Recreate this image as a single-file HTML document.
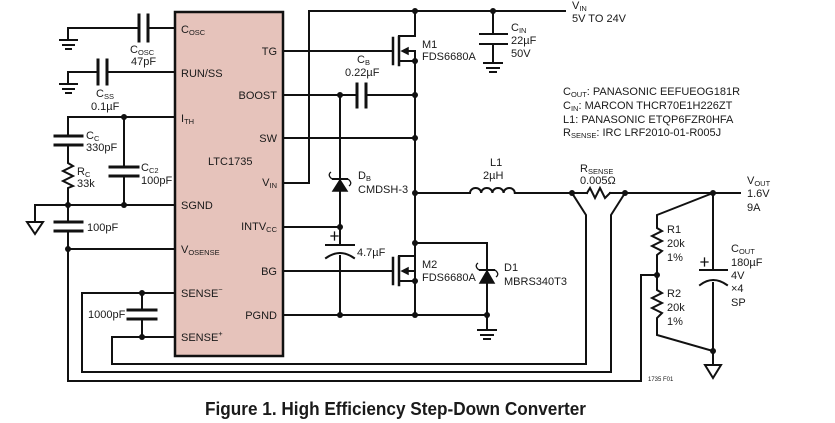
<!DOCTYPE html>
<html><head><meta charset="utf-8"><style>
html,body{margin:0;padding:0;background:#fff;}
svg{display:block;}
text{font-family:"Liberation Sans",sans-serif;fill:#1a1a1a;}
.l{font-size:11px;}
.s{font-size:7.5px;}
</style></head><body>
<svg width="835" height="423" viewBox="0 0 835 423" xmlns="http://www.w3.org/2000/svg">
<g stroke="#111" stroke-width="2" fill="none" stroke-linecap="square">
<rect x="175" y="12" width="108" height="344" fill="#e6c3bb" stroke="#111" stroke-width="2.5"/>
<path d="M68 40 V28 H139 M148 28 H175"/>
<path d="M139 15 V41 M148 15 V41" stroke-width="3"/>
<path d="M60 40 H77 M63 45 H74 M66 49 H71"/>
<path d="M68 84 V72 H98 M107 72 H175"/>
<path d="M98 60 V84 M107 60 V84" stroke-width="3"/>
<path d="M60 84 H77 M63 89 H74 M66 93 H71"/>
<path d="M68 136 V117 H175 M124 117 V167 M124 176 V205"/>
<path d="M55 136 H82 M55 145 H82 M110 167 H138 M110 176 H138" stroke-width="3"/>
<path d="M68 145 V163 L73 166 L63 171 L73 176 L63 181 L73 186 L68 188 V222"/>
<path d="M55 222 H82 M55 231 H82" stroke-width="3"/>
<path d="M35 222 V205 H175"/>
<path d="M27 222 H43 L35 234 Z"/>
<path d="M68 231 V381 H641 V275 H657 M68 249 H175"/>
<path d="M175 293 H82 V372 H611 V215 L625 193 M142 293 V310 M142 319 V337"/>
<path d="M128 310 H156 M128 319 H156" stroke-width="3"/>
<path d="M175 337 H112 V364 H586 V215 L572 193"/>
<path d="M283 51 H392 M283 183 H309 V11 H565 M283 95 H357 M366 95 H415 M283 138 H415 M283 227 H340 M283 271 H392 M283 315 H487"/>
<path d="M357 84 V107 M366 84 V107" stroke-width="3"/>
<path d="M393 38 V64 M393 258 V284" stroke-width="2.5"/>
<path d="M399 37 V45 M399 47 V55 M399 57 V65 M399 257 V265 M399 267 V275 M399 277 V285" stroke-width="2.5"/>
<path d="M399 36 H415 M399 61 H415 M405 51 H415 V61 M415 11 V36 M415 61 V315"/>
<path d="M399 256 H415 M399 281 H415 M405 271 H415 V281 M415 243 V256"/>
<path d="M493 11 V34 M493 44 V63 M480 34 H507 M480 44 H507 M484 63 H502 M487 68 H499 M490 72 H496"/>
<path d="M340 95 V245 M340 256 V315"/>
<path d="M326 245 H354"/>
<path d="M326 258 Q340 248 354 258"/>
<path d="M331 236 H338 M334.5 232 V240" stroke-width="1.3"/>
<path d="M415 243 H487 V330 M478 330 H496 M481 335 H493 M484 339 H490"/>
<path d="M415 193 H470 M515 193 H587 M610 193 H740"/>
<path d="M470 193 a5.6 5 0 0 1 11.2 0 a5.6 5 0 0 1 11.2 0 a5.6 5 0 0 1 11.2 0 a5.6 5 0 0 1 11.2 0"/>
<path d="M587 193 L590 188 L595 198 L600 188 L605 198 L610 193"/>
<path d="M713 193 L657 215 V228 L662 231 L652 236 L662 241 L652 246 L662 251 L657 255 V290 L662 293 L652 298 L662 303 L652 308 L662 313 L657 318 V335 L713 351 V365 M713 193 V270 M713 283 V351"/>
<path d="M700 270 H727"/>
<path d="M700 285 Q713 275 727 285"/>
<path d="M701 262 H708 M704.5 258 V266" stroke-width="1.3"/>
<path d="M705 365 H721 L713 378 Z"/>
</g>
<g fill="#111" stroke="#111" stroke-width="1.5">
<path d="M333 191 H347 L340 180 Z"/>
<path d="M480 283 H494 L487 271 Z"/>
<path d="M332 179 H348" stroke-width="2"/>
<path d="M479 270 H495" stroke-width="2"/>
<path d="M402 51 L408 48 V54 Z"/>
<path d="M402 271 L408 268 V274 Z"/>
</g>
<g fill="none" stroke="#111" stroke-width="1.3">
<path d="M332 179 Q327 175 331 172 M348 179 Q353 183 349 186"/>
<path d="M479 270 Q474 266 478 263 M495 270 Q500 274 496 277"/>
</g>
<g fill="#111">
<circle cx="124" cy="117" r="3"/><circle cx="68" cy="205" r="3"/><circle cx="124" cy="205" r="3"/>
<circle cx="68" cy="249" r="3"/><circle cx="142" cy="293" r="3"/><circle cx="142" cy="337" r="3"/>
<circle cx="415" cy="11" r="3"/><circle cx="493" cy="11" r="3"/><circle cx="415" cy="61" r="3"/>
<circle cx="340" cy="95" r="3"/><circle cx="415" cy="95" r="3"/><circle cx="415" cy="138" r="3"/>
<circle cx="415" cy="193" r="3"/><circle cx="340" cy="227" r="3"/><circle cx="415" cy="243" r="3"/>
<circle cx="415" cy="281" r="3"/><circle cx="340" cy="315" r="3"/><circle cx="415" cy="315" r="3"/>
<circle cx="487" cy="315" r="3"/><circle cx="572" cy="193" r="3"/><circle cx="625" cy="193" r="3"/>
<circle cx="713" cy="193" r="3"/><circle cx="657" cy="275" r="3"/><circle cx="713" cy="351" r="3"/>
</g>
<g class="l">
<text x="181" y="33">C<tspan class="s" dy="2">OSC</tspan></text>
<text x="181" y="77">RUN/SS</text>
<text x="181" y="122">I<tspan class="s" dy="2">TH</tspan></text>
<text x="181" y="209">SGND</text>
<text x="181" y="253">V<tspan class="s" dy="2">OSENSE</tspan></text>
<text x="181" y="297">SENSE<tspan class="s" dy="-5">−</tspan></text>
<text x="181" y="341">SENSE<tspan class="s" dy="-5">+</tspan></text>
<text x="208" y="165">LTC1735</text>
<g text-anchor="end">
<text x="277" y="55">TG</text>
<text x="277" y="99">BOOST</text>
<text x="277" y="142">SW</text>
<text x="277" y="186">V<tspan class="s" dy="2">IN</tspan></text>
<text x="277" y="230">INTV<tspan class="s" dy="2">CC</tspan></text>
<text x="277" y="275">BG</text>
<text x="277" y="319">PGND</text>
</g>
<text x="130" y="53">C<tspan class="s" dy="2">OSC</tspan></text>
<text x="131" y="65">47pF</text>
<text x="96" y="97">C<tspan class="s" dy="2">SS</tspan></text>
<text x="91" y="110">0.1µF</text>
<text x="86" y="139">C<tspan class="s" dy="2">C</tspan></text>
<text x="86" y="151">330pF</text>
<text x="77" y="175">R<tspan class="s" dy="2">C</tspan></text>
<text x="77" y="187">33k</text>
<text x="141" y="171">C<tspan class="s" dy="2">C2</tspan></text>
<text x="141" y="184">100pF</text>
<text x="87" y="231">100pF</text>
<text x="88" y="318">1000pF</text>
<text x="357" y="63">C<tspan class="s" dy="2">B</tspan></text>
<text x="345" y="76">0.22µF</text>
<text x="358" y="179">D<tspan class="s" dy="2">B</tspan></text>
<text x="358" y="193">CMDSH-3</text>
<text x="357" y="256">4.7µF</text>
<text x="422" y="48">M1</text>
<text x="422" y="60">FDS6680A</text>
<text x="422" y="268">M2</text>
<text x="422" y="281">FDS6680A</text>
<text x="504" y="271">D1</text>
<text x="504" y="285">MBRS340T3</text>
<text x="511" y="31">C<tspan class="s" dy="2">IN</tspan></text>
<text x="511" y="44">22µF</text>
<text x="511" y="57">50V</text>
<text x="572" y="9">V<tspan class="s" dy="2">IN</tspan></text>
<text x="572" y="22">5V TO 24V</text>
<text x="490" y="166">L1</text>
<text x="483" y="179">2µH</text>
<text x="580" y="172">R<tspan class="s" dy="2">SENSE</tspan></text>
<text x="580" y="184">0.005Ω</text>
<text x="747" y="184">V<tspan class="s" dy="2">OUT</tspan></text>
<text x="747" y="197">1.6V</text>
<text x="747" y="211">9A</text>
<text x="667" y="233">R1</text>
<text x="667" y="247">20k</text>
<text x="667" y="261">1%</text>
<text x="667" y="297">R2</text>
<text x="667" y="311">20k</text>
<text x="667" y="325">1%</text>
<text x="731" y="252">C<tspan class="s" dy="2">OUT</tspan></text>
<text x="731" y="266">180µF</text>
<text x="731" y="279">4V</text>
<text x="731" y="292">×4</text>
<text x="731" y="306">SP</text>
<text x="563" y="95">C<tspan class="s" dy="2">OUT</tspan><tspan dy="-2">: PANASONIC EEFUEOG181R</tspan></text>
<text x="563" y="109">C<tspan class="s" dy="2">IN</tspan><tspan dy="-2">: MARCON THCR70E1H226ZT</tspan></text>
<text x="563" y="123">L1: PANASONIC ETQP6FZR0HFA</text>
<text x="563" y="136">R<tspan class="s" dy="2">SENSE</tspan><tspan dy="-2">: IRC LRF2010-01-R005J</tspan></text>
</g>
<text x="648" y="381" style="font-size:6px">1735 F01</text>
<text x="205" y="415" style="font-size:18px;font-weight:bold" textLength="381" lengthAdjust="spacingAndGlyphs">Figure 1. High Efficiency Step-Down Converter</text>
</svg>
</body></html>
